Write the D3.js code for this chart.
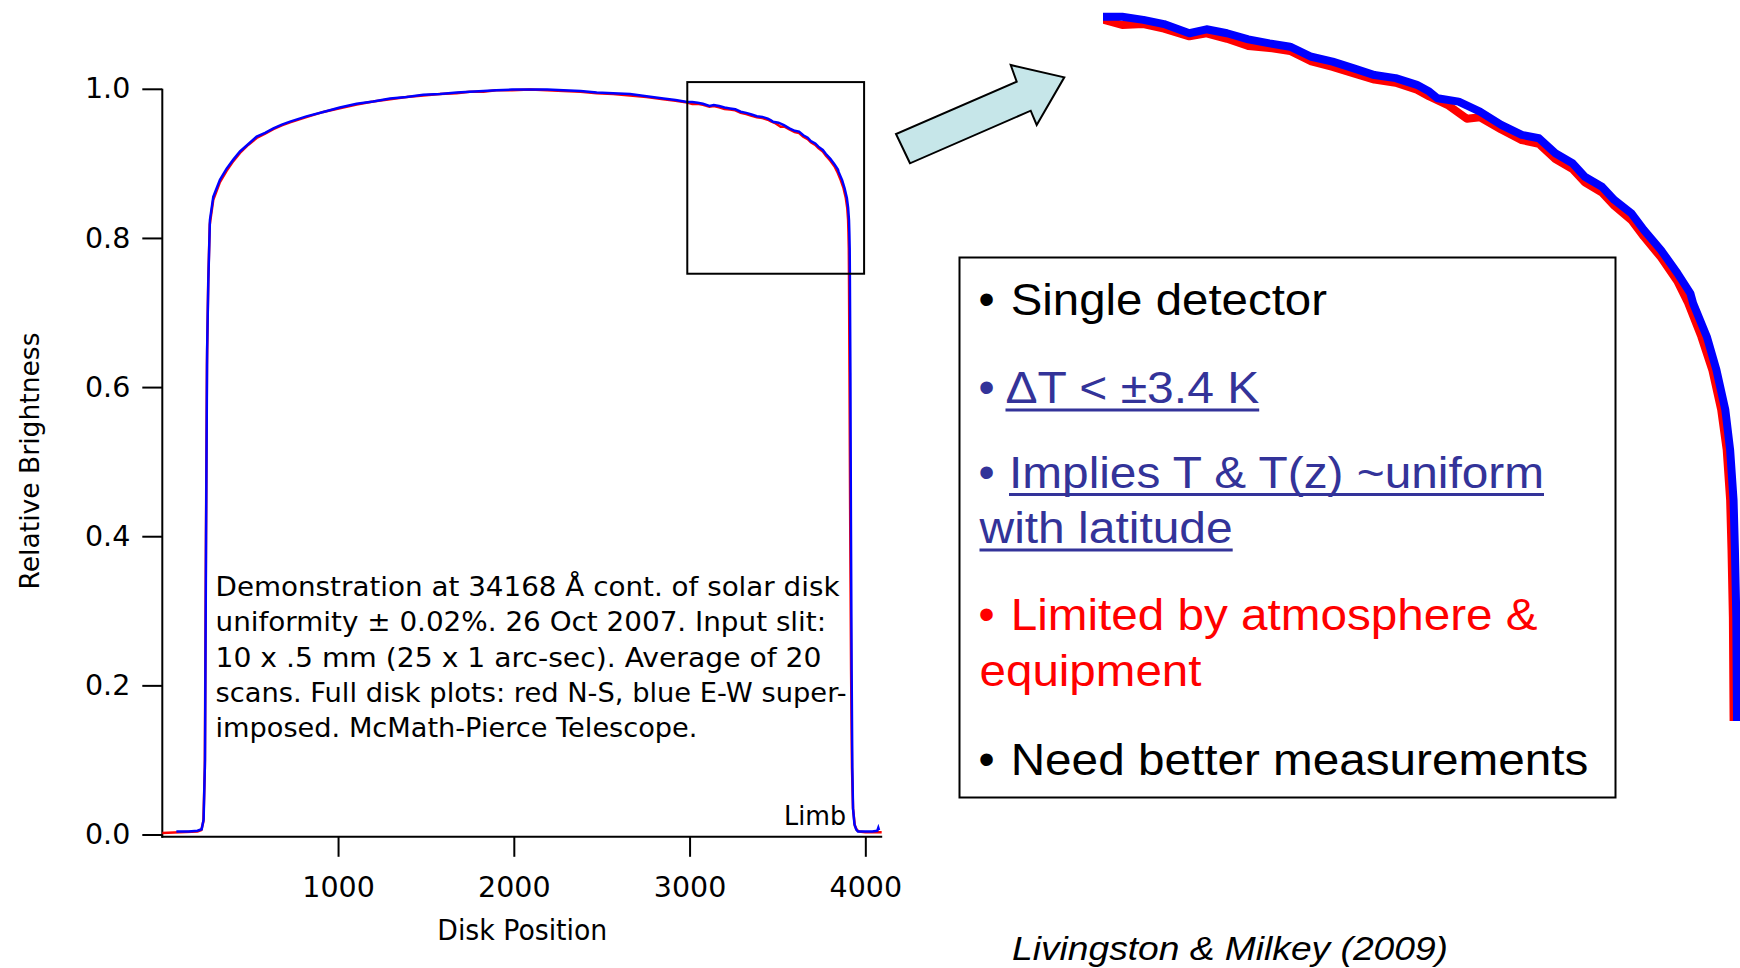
<!DOCTYPE html>
<html>
<head>
<meta charset="utf-8">
<script src="https://cdn.jsdelivr.net/npm/d3@7"></script>
<style>
  body { margin: 0; background: #fff; }
  svg { display: block; }
</style>
</head>
<body>
<div id="chart"></div>
<script>
// Solar disk scan at 34168 A - red N-S and blue E-W, with a magnified limb inset

// N-S scan (red)
const nsPos = [0, 100, 200, 222, 234, 242, 248, 254, 261, 270,
  290, 328, 366, 404, 442, 490, 537, 585, 632, 680,
  727, 820, 916, 1010, 1106, 1200, 1296, 1390, 1485, 1580,
  1675, 1750, 1827, 1900, 1990, 2092, 2190, 2282, 2380, 2472,
  2565, 2661, 2755, 2851, 2920,
  2987, 3015, 3046, 3076, 3113, 3138, 3168, 3199, 3230, 3260,
  3291, 3322, 3353, 3383, 3414, 3445, 3463, 3490, 3518, 3537,
  3568, 3598, 3623, 3647, 3672, 3690, 3715, 3733, 3758, 3776,
  3801, 3825, 3840, 3860, 3876, 3889, 3897, 3902, 3904, 3906,
  3907,
  3910, 3914, 3919, 3924, 3930, 3940, 3952, 3965, 4000, 4050, 4093];
const nsVal = [0.002, 0.003, 0.004, 0.006, 0.018, 0.090, 0.380, 0.630, 0.738, 0.818,
  0.851, 0.875, 0.890, 0.903, 0.914, 0.925, 0.934, 0.940, 0.946, 0.951,
  0.955, 0.962, 0.969, 0.974, 0.979, 0.983, 0.986, 0.989, 0.991, 0.993,
  0.994, 0.996, 0.996, 0.998, 0.998, 0.999, 0.998, 0.997, 0.996, 0.994,
  0.993, 0.991, 0.989, 0.986, 0.984,
  0.9815, 0.9797, 0.9800, 0.9785, 0.9760, 0.9770, 0.9752, 0.9728, 0.9722, 0.9712,
  0.9678, 0.9660, 0.9638, 0.9618, 0.9608, 0.9585, 0.9563, 0.9535, 0.9490, 0.9495,
  0.9455, 0.9420, 0.9408, 0.9358, 0.9325, 0.9282, 0.9248, 0.9205, 0.9158, 0.9104,
  0.9036, 0.8958, 0.8890, 0.8776, 0.8667, 0.8536, 0.8405, 0.8241, 0.8077, 0.7858,
  0.7531,
  0.62, 0.42, 0.22, 0.09, 0.035, 0.012, 0.006, 0.004, 0.003, 0.003, 0.003];

// E-W scan (blue)
const ewPos = [80, 150, 200, 224, 235, 243, 249, 255, 262, 271,
  290, 328, 366, 404, 442, 490, 537, 585, 632, 680,
  727, 820, 916, 1010, 1106, 1200, 1296, 1390, 1485, 1580,
  1675, 1750, 1827, 1900, 1990, 2092, 2190, 2282, 2380, 2472,
  2565, 2661, 2755, 2851, 2920,
  2987, 3015, 3046, 3076, 3113, 3138, 3168, 3199, 3230, 3260,
  3291, 3322, 3353, 3383, 3414, 3445, 3463, 3475, 3506, 3537,
  3568, 3598, 3623, 3647, 3672, 3690, 3715, 3733, 3758, 3776,
  3801, 3825, 3844, 3848, 3868, 3882, 3895, 3902, 3907, 3909,
  3911, 3912,
  3915, 3918, 3922, 3926, 3930, 3938, 3948, 3958, 4000, 4040, 4068, 4074, 4078];
const ewVal = [0.004, 0.004, 0.005, 0.007, 0.020, 0.100, 0.400, 0.650, 0.744, 0.824,
  0.855, 0.878, 0.893, 0.905, 0.916, 0.926, 0.936, 0.941, 0.947, 0.952,
  0.956, 0.963, 0.969, 0.975, 0.980, 0.983, 0.987, 0.989, 0.992, 0.993,
  0.995, 0.996, 0.997, 0.998, 0.999, 0.999, 0.999, 0.998, 0.997, 0.995,
  0.994, 0.993, 0.990, 0.987, 0.985,
  0.9824, 0.9824, 0.9814, 0.9800, 0.9770, 0.9783, 0.9770, 0.9750, 0.9737, 0.9726,
  0.9693, 0.9677, 0.9655, 0.9633, 0.9623, 0.9601, 0.9579, 0.9557, 0.9546, 0.9513,
  0.9470, 0.9437, 0.9426, 0.9377, 0.9344, 0.9300, 0.9267, 0.9224, 0.9180, 0.9126,
  0.9060, 0.8984, 0.8918, 0.8885, 0.8776, 0.8667, 0.8536, 0.8405, 0.8241, 0.8077,
  0.7858, 0.7531,
  0.62, 0.42, 0.22, 0.09, 0.035, 0.014, 0.007, 0.004, 0.004, 0.004, 0.005, 0.009, 0.006];

const xTicks = [1000, 2000, 3000, 4000];
const yTicks = [0, 0.2, 0.4, 0.6, 0.8, 1.0];
const xDomain = [0, 4096];
const zoomX = [2987, 3993];
const zoomY = [0.752, 1.009];

const noteLines = [
  "Demonstration at 34168 Å cont. of solar disk",
  "uniformity ± 0.02%. 26 Oct 2007. Input slit:",
  "10 x .5 mm (25 x 1 arc-sec). Average of 20",
  "scans. Full disk plots: red N-S, blue E-W super-",
  "imposed. McMath-Pierce Telescope."
];

const W = 1740, H = 968;
const leftFont = "'DejaVu Sans', sans-serif";
const rightFont = "'Liberation Sans', Arial, sans-serif";

const svg = d3.select("#chart").append("svg")
    .attr("width", W)
    .attr("height", H)
    .style("background", "#fff");

const x = d3.scaleLinear().domain(xDomain).range([162.3, 882.2]);
const y = d3.scaleLinear().domain([0, 1]).range([834.5, 88.8]);
const axisY = y(0) + 2.3;

const ns = d3.zip(nsPos, nsVal);
const ew = d3.zip(ewPos, ewVal);

// y axis
const yAxis = svg.append("g")
    .attr("transform", `translate(${x(0)},0)`)
    .call(d3.axisLeft(y).tickValues(yTicks).tickFormat(d3.format(".1f")).tickSize(20).tickPadding(12));
yAxis.select(".domain").remove();
yAxis.selectAll(".tick line").attr("stroke", "#000").attr("stroke-width", 2);
yAxis.selectAll(".tick text")
    .attr("fill", "#000")
    .style("font-family", leftFont)
    .style("font-size", "28.5px");

// x axis
const xAxis = svg.append("g")
    .attr("transform", `translate(0,${axisY})`)
    .call(d3.axisBottom(x).tickValues(xTicks).tickFormat(d3.format("d")).tickSize(20).tickPadding(20));
xAxis.select(".domain").remove();
xAxis.selectAll(".tick line").attr("stroke", "#000").attr("stroke-width", 2);
xAxis.selectAll(".tick text")
    .attr("fill", "#000")
    .style("font-family", leftFont)
    .style("font-size", "28.5px");

svg.append("line")
    .attr("x1", x(0)).attr("x2", x(0))
    .attr("y1", y(1)).attr("y2", axisY + 1)
    .attr("stroke", "#000").attr("stroke-width", 2);
svg.append("line")
    .attr("x1", x(0) - 1).attr("x2", x(xDomain[1]))
    .attr("y1", axisY).attr("y2", axisY)
    .attr("stroke", "#000").attr("stroke-width", 2);

// axis titles
svg.append("text")
    .attr("x", 522.3)
    .attr("y", 940)
    .attr("text-anchor", "middle")
    .attr("textLength", 170)
    .attr("lengthAdjust", "spacingAndGlyphs")
    .style("font-family", leftFont)
    .style("font-size", "28px")
    .text("Disk Position");

svg.append("text")
    .attr("transform", "translate(39,461) rotate(-90)")
    .attr("text-anchor", "middle")
    .attr("textLength", 257)
    .attr("lengthAdjust", "spacingAndGlyphs")
    .style("font-family", leftFont)
    .style("font-size", "27px")
    .text("Relative Brightness");

// curves
const line = d3.line().x(d => x(d[0])).y(d => y(d[1]));
svg.append("path").datum(ns)
    .attr("d", line)
    .attr("fill", "none")
    .attr("stroke", "#ff0000")
    .attr("stroke-width", 2.5);
svg.append("path").datum(ew)
    .attr("d", line)
    .attr("fill", "none")
    .attr("stroke", "#0000ff")
    .attr("stroke-width", 2.5);

// zoom box
svg.append("rect")
    .attr("x", x(zoomX[0]))
    .attr("y", y(zoomY[1]))
    .attr("width", x(zoomX[1]) - x(zoomX[0]))
    .attr("height", y(zoomY[0]) - y(zoomY[1]))
    .attr("fill", "none")
    .attr("stroke", "#000")
    .attr("stroke-width", 2);

// annotation
const noteWidths = [624, 610.6, 606, 631, 482];
svg.append("g").selectAll("text")
    .data(noteLines)
    .join("text")
    .attr("x", 215.5)
    .attr("y", (d, i) => 596 + i * 35.35)
    .attr("textLength", (d, i) => noteWidths[i])
    .attr("lengthAdjust", "spacingAndGlyphs")
    .style("font-family", leftFont)
    .style("font-size", "26.5px")
    .text(d => d);

svg.append("text")
    .attr("x", 846)
    .attr("y", 825)
    .attr("text-anchor", "end")
    .attr("textLength", 62)
    .attr("lengthAdjust", "spacingAndGlyphs")
    .style("font-family", leftFont)
    .style("font-size", "26.5px")
    .text("Limb");

// arrow
const arrowPts = [[910, 163.3], [896, 134], [1016.7, 81.7], [1010.7, 65], [1064.3, 77.3], [1036.7, 125], [1030.7, 110.7]];
svg.append("polygon")
    .attr("points", arrowPts.map(p => p.join(",")).join(" "))
    .attr("fill", "#c6e6e9")
    .attr("stroke", "#000")
    .attr("stroke-width", 2)
    .attr("stroke-linejoin", "miter");

// magnified inset
const xi = d3.scaleLinear().domain(zoomX).range([1103, 1792.5]);
const yi = d3.scaleLinear().domain(zoomY).range([720, -64.4]);
svg.append("clipPath").attr("id", "inset-clip")
    .append("rect")
    .attr("x", xi(zoomX[0]))
    .attr("y", 0)
    .attr("width", W - xi(zoomX[0]))
    .attr("height", yi(zoomY[0]) + 1);
const lineInset = d3.line().x(d => xi(d[0])).y(d => yi(d[1]));
const inset = svg.append("g").attr("clip-path", "url(#inset-clip)");
inset.append("path").datum(ns)
    .attr("d", lineInset)
    .attr("fill", "none")
    .attr("stroke", "#ff0000")
    .attr("stroke-width", 8)
    .attr("stroke-linejoin", "round");
inset.append("path").datum(ew)
    .attr("d", lineInset)
    .attr("fill", "none")
    .attr("stroke", "#0000ff")
    .attr("stroke-width", 8)
    .attr("stroke-linejoin", "round");

// text box
svg.append("rect")
    .attr("x", 959.5).attr("y", 257.5)
    .attr("width", 656).attr("height", 540)
    .attr("fill", "#fff")
    .attr("stroke", "#000")
    .attr("stroke-width", 2);

const boxLines = [
  { text: "Single detector", bullet: true, color: "#000", link: false, x: 1010.7, y: 315.4, w: 316.3 },
  { text: "ΔT < ±3.4 K", bullet: true, color: "#333399", link: true, x: 1005.5, y: 402.9, w: 253.7 },
  { text: "Implies T & T(z) ~uniform", bullet: true, color: "#333399", link: true, x: 1009, y: 487.5, w: 535 },
  { text: "with latitude", bullet: false, color: "#333399", link: true, x: 979.5, y: 542.9, w: 253.2 },
  { text: "Limited by atmosphere &", bullet: true, color: "#ff0000", link: false, x: 1010.7, y: 630.4, w: 526.9 },
  { text: "equipment", bullet: false, color: "#ff0000", link: false, x: 979.5, y: 686.4, w: 222 },
  { text: "Need better measurements", bullet: true, color: "#000", link: false, x: 1010.7, y: 775, w: 577.6 }
];

const box = svg.append("g");
boxLines.forEach(l => {
    if (l.bullet) {
        box.append("text")
            .attr("x", 978.5)
            .attr("y", l.y)
            .attr("fill", l.color)
            .style("font-family", rightFont)
            .style("font-size", "46px")
            .text("•");
    }
    box.append("text")
        .attr("x", l.x)
        .attr("y", l.y)
        .attr("fill", l.color)
        .attr("textLength", l.w)
        .attr("lengthAdjust", "spacingAndGlyphs")
        .style("font-family", rightFont)
        .style("font-size", "44px")
        .text(l.text);
    if (l.link) {
        box.append("line")
            .attr("x1", l.x).attr("x2", l.x + l.w)
            .attr("y1", l.y + 7).attr("y2", l.y + 7)
            .attr("stroke", l.color)
            .attr("stroke-width", 3);
    }
});

// citation
svg.append("text")
    .attr("x", 1012)
    .attr("y", 960)
    .attr("textLength", 436)
    .attr("lengthAdjust", "spacingAndGlyphs")
    .style("font-family", rightFont)
    .style("font-style", "italic")
    .style("font-size", "34px")
    .text("Livingston & Milkey (2009)");
</script>
</body>
</html>
